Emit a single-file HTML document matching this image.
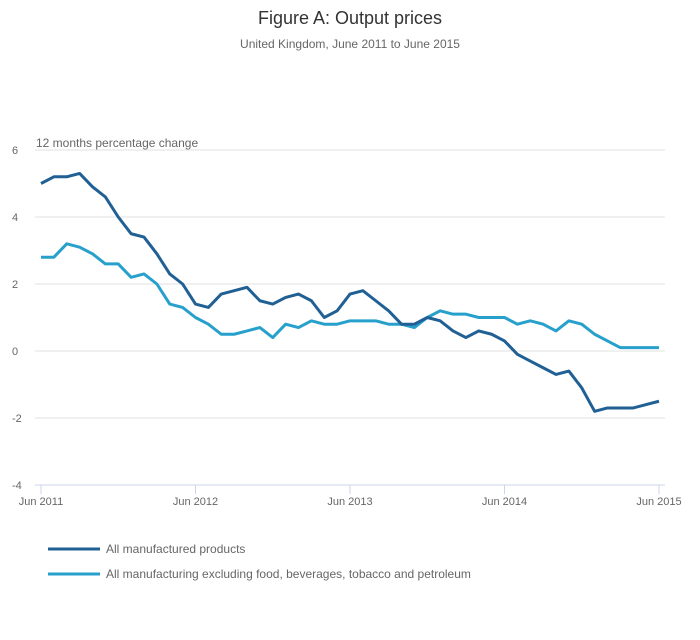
<!DOCTYPE html>
<html><head><meta charset="utf-8"><style>
body{margin:0;background:#fff;font-family:"Liberation Sans","DejaVu Sans",sans-serif;}
svg text{font-family:"Liberation Sans","DejaVu Sans",sans-serif;}
</style></head><body>
<svg id="chart" width="700" height="635">
<text x="350" y="24" text-anchor="middle" font-size="18" fill="#333">Figure A: Output prices</text>
<text x="350" y="48" text-anchor="middle" font-size="12" fill="#666">United Kingdom, June 2011 to June 2015</text>
<text x="36" y="147" font-size="12" fill="#666">12 months percentage change</text>
<g id="grid"></g><g id="xaxis"></g><g id="series"></g>
<g>
<line x1="48" y1="549" x2="100" y2="549" stroke="#206095" stroke-width="3"/>
<text x="106" y="553" font-size="12" fill="#666">All manufactured products</text>
<line x1="48" y1="574" x2="100" y2="574" stroke="#27a0cc" stroke-width="3"/>
<text x="106" y="578" font-size="12" fill="#666">All manufacturing excluding food, beverages, tobacco and petroleum</text>
</g>
</svg>
<script>
const yTicks=[6,4,2,0,-2,-4];
const xTickLabels=["Jun 2011","Jun 2012","Jun 2013","Jun 2014","Jun 2015"];
const xTickIndex=[0,12,24,36,48];
const allManufactured=[5.0,5.2,5.2,5.3,4.9,4.6,4.0,3.5,3.4,2.9,2.3,2.0,1.4,1.3,1.7,1.8,1.9,1.5,1.4,1.6,1.7,1.5,1.0,1.2,1.7,1.8,1.5,1.2,0.8,0.8,1.0,0.9,0.6,0.4,0.6,0.5,0.3,-0.1,-0.3,-0.5,-0.7,-0.6,-1.1,-1.8,-1.7,-1.7,-1.7,-1.6,-1.5];
const excluding=[2.8,2.8,3.2,3.1,2.9,2.6,2.6,2.2,2.3,2.0,1.4,1.3,1.0,0.8,0.5,0.5,0.6,0.7,0.4,0.8,0.7,0.9,0.8,0.8,0.9,0.9,0.9,0.8,0.8,0.7,1.0,1.2,1.1,1.1,1.0,1.0,1.0,0.8,0.9,0.8,0.6,0.9,0.8,0.5,0.3,0.1,0.1,0.1,0.1];
const NS="http://www.w3.org/2000/svg";
const x=i=>41+i*(659-41)/48;
const y=v=>150+(6-v)*(485-150)/10;
function mk(tag,attrs,parent){const e=document.createElementNS(NS,tag);for(const k in attrs)e.setAttribute(k,attrs[k]);parent.appendChild(e);return e;}
const grid=document.getElementById('grid');
yTicks.forEach(t=>{
 if(t!==-4){const l=mk('line',{x1:35,x2:665,y1:y(t),y2:y(t),stroke:'#e2e2e2','stroke-width':1},grid);
 
 }
 const tx=mk('text',{x:12,y:y(t)+4,'font-size':11,fill:'#666'},grid);
 tx.textContent=t;
 
 
});
const xa=document.getElementById('xaxis');
const ax=mk('line',{x1:35,x2:665,y1:485,y2:485,stroke:'#ccd6eb','stroke-width':1},xa);


xTickIndex.forEach((ix,k)=>{
 const tk=mk('line',{x1:x(ix),x2:x(ix),y1:485,y2:494,stroke:'#ccd6eb','stroke-width':1},xa);
 
 
 const t=mk('text',{x:x(ix),y:505,'font-size':11,fill:'#666','text-anchor':'middle'},xa);
 t.textContent=xTickLabels[k];
 
 
});
const sg=document.getElementById('series');
[[excluding,'#27a0cc','line-excluding'],[allManufactured,'#206095','line-all-manufactured']].forEach(([d,c,n])=>{
 const p=mk('polyline',{points:d.map((v,i)=>x(i)+','+y(v)).join(' '),fill:'none',stroke:c,'stroke-width':3,'stroke-linejoin':'round'},sg);
 
 
});
</script>
</body></html>
